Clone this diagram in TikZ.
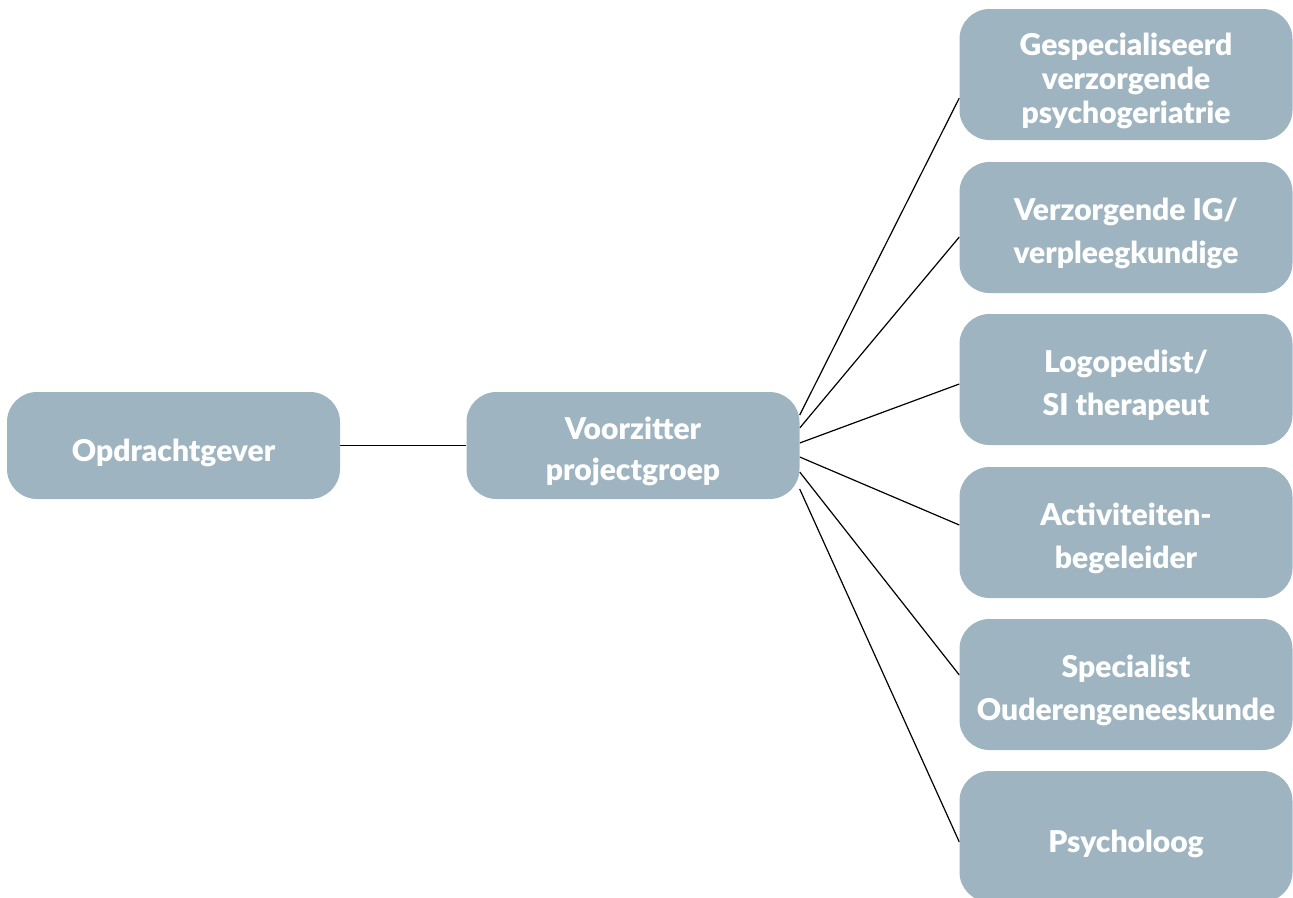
\documentclass[tikz,border=0pt]{standalone}
\usepackage{fontspec}
\setmainfont{Lato}[UprightFont=* Black]
\usetikzlibrary{calc,backgrounds}
\definecolor{boxblue}{RGB}{158,180,192}
\begin{document}
\begin{tikzpicture}[x=1pt,y=-1pt,
  box/.style={fill=boxblue,rounded corners=30pt,minimum width=333pt,inner sep=0pt},
  leftbox/.style={box,minimum height=107pt},
  rightbox/.style={box,minimum height=131pt},
  txt/.style={text=white,align=center,inner sep=0pt,font=\fontsize{30}{43}\selectfont},
  txtthree/.style={txt,font=\fontsize{30}{34}\selectfont},
  conn/.style={draw=black,line width=1.2pt}]
\clip (0,0) rectangle (1293,897);
\useasboundingbox (0,0) rectangle (1293,897);
\node[leftbox] (op) at (173.5,445.5) {};
\node[leftbox] (vz) at (633,445.5) {};
\node[rightbox] (r1) at (1126,74.5) {};
\node[rightbox] (r2) at (1126,227.5) {};
\node[rightbox] (r3) at (1126,379.5) {};
\node[rightbox] (r4) at (1126,532.5) {};
\node[rightbox] (r5) at (1126,684.5) {};
\node[rightbox] (r6) at (1126,836.5) {};
\node[txt] (top) at ($(op.center)+(0,7)$) {Opdrachtgever};
\node[txt] (tvz) at ($(vz.center)+(0,6)$) {Voorzitter\\[-2pt]projectgroep};
\node[txtthree] (t1) at ($(r1.center)+(0,6)$) {Gespecialiseerd\\verzorgende\\psychogeriatrie};
\node[txt] (t2) at ($(r2.center)+(0,6)$) {Verzorgende IG/\\verpleegkundige};
\node[txt] (t3) at ($(r3.center)+(0,6)$) {Logopedist/\\SI therapeut};
\node[txt] (t4) at ($(r4.center)+(0,6)$) {Activiteiten-\\begeleider};
\node[txt] (t5) at ($(r5.center)+(0,6)$) {Specialist\\Ouderengeneeskunde};
\node[txt] (t6) at ($(r6.center)+(0,7)$) {Psycholoog};
\begin{scope}[on background layer]
\draw[conn] (op.east) -- (vz.west);
\draw[conn] ($(vz.east)+(0,-30.5)$) -- ($(r1.west)+(0,23.5)$);
\draw[conn] ($(vz.east)+(0,-17.5)$) -- ($(r2.west)+(0,9.5)$);
\draw[conn] ($(vz.east)+(0,-2.5)$) -- ($(r3.west)+(0,4.5)$);
\draw[conn] ($(vz.east)+(0,11.5)$) -- ($(r4.west)+(0,-7.5)$);
\draw[conn] ($(vz.east)+(0,26.5)$) -- ($(r5.west)+(0,-9.5)$);
\draw[conn] ($(vz.east)+(0,43.5)$) -- ($(r6.west)+(0,5.5)$);
\end{scope}
\end{tikzpicture}
\end{document}
